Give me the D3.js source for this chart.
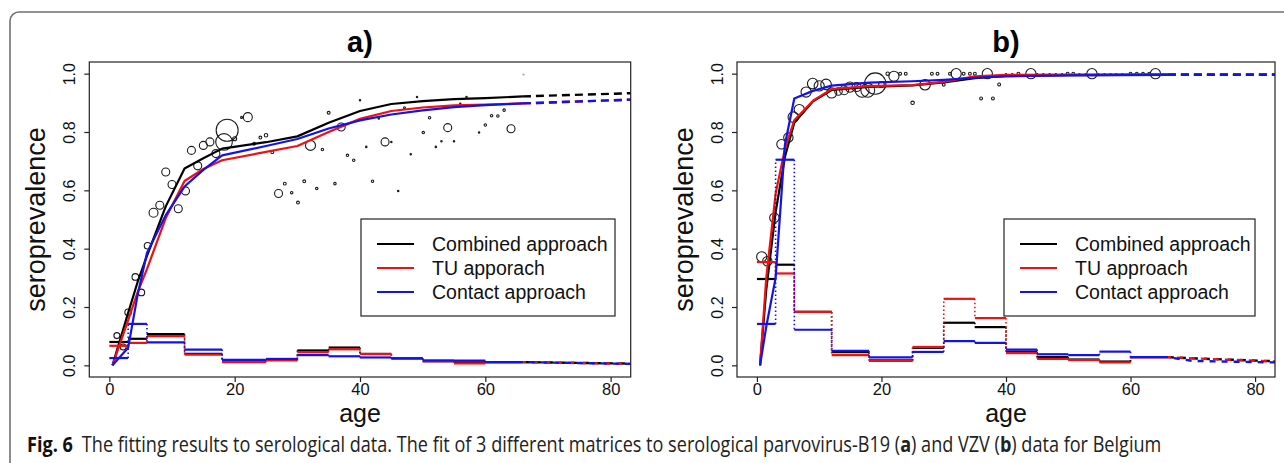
<!DOCTYPE html>
<html>
<head>
<meta charset="utf-8">
<script src="https://cdn.jsdelivr.net/npm/d3@7"></script>
<style>
html, body { margin: 0; padding: 0; background: #fff; }
svg { display: block; font-family: "Liberation Sans", Arial, sans-serif; }
</style>
</head>
<body>
<svg id="chart" width="1284" height="463"></svg>
<script>
// ---- data ----
const xTicks = [0, 20, 40, 60, 80];
const yTicks = [0, 0.2, 0.4, 0.6, 0.8, 1.0];
const seriesColors = ["#000000", "#f01010", "#1212f0"];
const legendA = ["Combined approach", "TU apporach", "Contact approach"];
const legendB = ["Combined approach", "TU approach", "Contact approach"];

// age groups of the piecewise force of infection
const ageBreaks = [0, 3, 6, 12, 18, 25, 30, 35, 40, 45, 50, 55, 60, 66];

// panel a: parvovirus-B19
const stepA_combined = [0.080, 0.091, 0.107, 0.039, 0.014, 0.019, 0.051, 0.061, 0.039, 0.024, 0.014, 0.010, 0.011];
const stepA_tu       = [0.067, 0.077, 0.100, 0.037, 0.011, 0.017, 0.045, 0.055, 0.039, 0.024, 0.014, 0.007, 0.011];
const stepA_contact  = [0.025, 0.142, 0.079, 0.054, 0.019, 0.022, 0.035, 0.031, 0.027, 0.024, 0.017, 0.016, 0.011];
const stepExtAgesA = [66, 83.2];
const stepExtA_combined = [0.011, 0.006];
const stepExtA_tu = [0.011, 0.005];
const stepExtA_contact = [0.011, 0.005];

const prevAgesA = [0.5, 3, 4.5, 6, 9, 12, 15, 18, 25, 30, 35, 40, 45, 50, 55, 60, 66];
const prevA_combined = [0, 0.18, 0.285, 0.375, 0.545, 0.675, 0.71, 0.743, 0.765, 0.785, 0.832, 0.872, 0.896, 0.906, 0.913, 0.916, 0.922];
const prevA_tu       = [0, 0.155, 0.25, 0.33, 0.505, 0.632, 0.673, 0.703, 0.732, 0.752, 0.80, 0.845, 0.872, 0.884, 0.891, 0.894, 0.898];
const prevA_contact  = [0, 0.06, 0.24, 0.385, 0.515, 0.613, 0.67, 0.72, 0.752, 0.776, 0.812, 0.84, 0.86, 0.874, 0.885, 0.892, 0.898];
const prevExtAges = [66, 83.2];
const prevExtA_combined = [0.922, 0.933];
const prevExtA_tu = [0.898, 0.911];
const prevExtA_contact = [0.898, 0.911];

// observed seroprevalence: age, proportion, sample weight
const obsAgeA = [1.2, 2.2, 3.0, 4.15, 5.1, 6.1, 7.05, 8.05, 9.0, 10.0, 11.0, 12.15, 13.1, 14.1, 15.0, 16.05, 17.0, 18.3, 18.8, 20.0,
  21.1, 22.1, 23.1, 24.1, 25.0, 26.0, 27.0, 28.0, 29.1, 30.1, 31.1, 32.1, 33.1, 34.0, 35.0, 36.0, 37.0, 38.0, 39.0, 40.0,
  41.0, 42.0, 43.0, 44.0, 45.0, 46.1, 47.1, 48.1, 49.1, 50.1, 51.1, 52.1, 53.0, 54.0, 55.0, 56.0, 57.0, 59.0, 60.0, 61.0,
  62.0, 63.0, 64.1, 66.1];
const obsPrevA = [0.102, 0.063, 0.182, 0.303, 0.25, 0.41, 0.523, 0.549, 0.663, 0.62, 0.537, 0.598, 0.737, 0.684, 0.754, 0.766, 0.726, 0.766, 0.806, 0.777,
  0.85, 0.851, 0.76, 0.781, 0.789, 0.731, 0.589, 0.623, 0.592, 0.558, 0.631, 0.754, 0.606, 0.74, 0.866, 0.623, 0.817, 0.72, 0.703, 0.909,
  0.749, 0.631, 0.846, 0.766, 0.766, 0.598, 0.883, 0.724, 0.92, 0.798, 0.849, 0.749, 0.768, 0.815, 0.768, 0.897, 0.92, 0.798, 0.824, 0.856,
  0.855, 0.875, 0.811, 0.997];
const obsNA = [9, 9, 11, 11, 11, 11, 20, 16, 16, 16, 16, 16, 16, 16, 16, 16, 16, 69, 121, 4,
  1, 20, 2, 2, 3, 2, 16, 2, 1.5, 2, 2, 25, 1.5, 1.5, 2, 1.5, 16, 1.5, 1.5, 0.5,
  0.5, 1.5, 0.5, 16, 0.5, 0.5, 1, 0.5, 0.5, 1.5, 1.5, 0.5, 0.5, 16, 0.5, 0.5, 0.5, 0.5, 1.5, 1.5,
  1.5, 1.5, 16, 0.3];

// panel b: VZV
const stepB_combined = [0.296, 0.345, 0.183, 0.045, 0.017, 0.060, 0.146, 0.131, 0.047, 0.028, 0.020, 0.013, 0.028];
const stepB_tu       = [0.354, 0.315, 0.183, 0.035, 0.015, 0.063, 0.228, 0.162, 0.042, 0.022, 0.018, 0.010, 0.028];
const stepB_contact  = [0.142, 0.705, 0.122, 0.050, 0.027, 0.046, 0.083, 0.077, 0.054, 0.038, 0.035, 0.047, 0.028];
const stepExtAgesB = [66, 70, 83.2];
const stepExtB_combined = [0.028, 0.024, 0.014];
const stepExtB_tu = [0.028, 0.024, 0.013];
const stepExtB_contact = [0.028, 0.015, 0.010];

const prevAgesB = [0.5, 1.5, 3, 4.5, 6, 9, 12, 18, 25, 30, 35, 40, 50, 66];
const prevB_combined = [0, 0.26, 0.525, 0.715, 0.832, 0.905, 0.944, 0.955, 0.96, 0.97, 0.985, 0.992, 0.995, 0.997];
const prevB_tu       = [0, 0.30, 0.588, 0.743, 0.84, 0.907, 0.947, 0.957, 0.961, 0.972, 0.991, 0.996, 0.997, 0.998];
const prevB_contact  = [0, 0.133, 0.30, 0.757, 0.915, 0.941, 0.959, 0.969, 0.974, 0.979, 0.986, 0.991, 0.994, 0.996];
const prevExtB_combined = [0.997, 0.997];
const prevExtB_tu = [0.996, 0.996];
const prevExtB_contact = [0.996, 0.996];

const obsAgeB = [0.77, 1.67, 2.8, 3.94, 5.05, 5.85, 6.8, 7.9, 8.96, 10.0, 11.1, 12.0, 13.1, 14.0, 14.95, 16.0, 16.9, 17.8, 19.0, 20.0,
  21.0, 22.0, 23.0, 23.9, 25.0, 27.0, 28.1, 29.0, 30.0, 31.0, 32.0, 33.2, 34.2, 35.0, 36.0, 37.0, 37.9, 38.9, 40.0, 41.0,
  42.0, 44.0, 45.0, 46.0, 47.0, 48.0, 49.0, 49.9, 50.8, 51.8, 52.8, 53.8, 54.8, 55.8, 56.8, 57.7, 58.7, 60.0, 61.0, 62.0,
  63.0, 64.0];
const obsPrevB = [0.372, 0.357, 0.506, 0.758, 0.781, 0.851, 0.877, 0.937, 0.966, 0.958, 0.963, 0.934, 0.939, 0.943, 0.954, 0.954, 0.943, 0.943, 0.966, 0.963,
  1.0, 0.991, 1.0, 1.0, 0.90, 0.962, 1.0, 1.0, 0.962, 1.0, 1.0, 1.0, 1.0, 1.0, 0.915, 1.0, 0.915, 0.963, 0.998, 0.998,
  1.0, 1.0, 0.998, 0.998, 0.998, 0.998, 0.998, 1.0, 1.0, 0.998, 0.998, 1.0, 0.998, 0.998, 0.998, 0.998, 0.998, 1.0, 1.0, 1.0,
  1.0, 1.0];
const obsNB = [26, 22, 22, 22, 22, 28, 26, 26, 28, 26, 28, 26, 14, 20, 26, 20, 48, 48, 114, 8,
  3, 26, 2, 2, 3, 28, 2, 2, 2, 2, 26, 2, 2, 2, 2, 26, 2, 2, 0.5, 0.5,
  2, 26, 0.5, 0.5, 0.5, 0.5, 0.5, 2, 2, 0.5, 0.5, 26, 0.5, 0.5, 0.5, 0.5, 0.5, 2, 2, 2,
  2, 26];

// ---- layout ----
const svg = d3.select("#chart");
const xDomain = [-3.2, 83.2];
const yDomain = [-0.04, 1.04];
const boxTop = 62, boxBottom = 377;
const sizeScale = d3.scaleSqrt().domain([0, 100]).range([0, 10]);

// outer frame of the figure
svg.append("rect")
  .attr("x", 10).attr("y", 12)
  .attr("width", 1400).attr("height", 600)
  .attr("rx", 9)
  .attr("fill", "none")
  .attr("stroke", "#707070")
  .attr("stroke-width", 1.6);

function drawPanel(p) {
  const x = d3.scaleLinear().domain(xDomain).range([p.left, p.right]);
  const y = d3.scaleLinear().domain(yDomain).range([boxBottom, boxTop]);
  const g = svg.append("g");

  // observed points
  g.append("g").selectAll("circle")
    .data(d3.zip(p.obsAge, p.obsPrev, p.obsN))
    .join("circle")
    .attr("cx", d => x(d[0]))
    .attr("cy", d => y(d[1]))
    .attr("r", d => Math.max(0.6, sizeScale(d[2])))
    .attr("fill", "none")
    .attr("stroke", d => d[2] < 0.4 ? "#aaa" : "#1a1a1a")
    .attr("stroke-width", 1.1);

  const line = d3.line().x(d => x(d[0])).y(d => y(d[1]));

  p.series.forEach((s, i) => {
    const color = seriesColors[i];
    const sg = g.append("g");

    // dotted jumps between age groups
    const jumps = s.step.slice(0, -1).map((v, k) => [ageBreaks[k + 1], v, s.step[k + 1]]);
    sg.selectAll("line.jump")
      .data(jumps)
      .join("line")
      .attr("class", "jump")
      .attr("x1", d => x(d[0])).attr("x2", d => x(d[0]))
      .attr("y1", d => y(d[1])).attr("y2", d => y(d[2]))
      .attr("stroke", color)
      .attr("stroke-width", 1.6)
      .attr("stroke-dasharray", "1.5,2.5");

    // force of infection per age group
    sg.selectAll("line.step")
      .data(s.step)
      .join("line")
      .attr("class", "step")
      .attr("x1", (d, k) => x(ageBreaks[k]))
      .attr("x2", (d, k) => x(ageBreaks[k + 1]))
      .attr("y1", d => y(d)).attr("y2", d => y(d))
      .attr("stroke", color)
      .attr("stroke-width", 2.2);

    sg.append("path")
      .datum(d3.zip(p.stepExtAges, s.stepExt))
      .attr("d", line)
      .attr("fill", "none")
      .attr("stroke", color)
      .attr("stroke-width", 2.4)
      .attr("stroke-dasharray", "6,6")
      .attr("stroke-dashoffset", i * 3);

    // fitted seroprevalence
    sg.append("path")
      .datum(d3.zip(p.prevAges, s.prev))
      .attr("d", line)
      .attr("fill", "none")
      .attr("stroke", color)
      .attr("stroke-width", 2.2)
      .attr("stroke-linejoin", "round");

    sg.append("path")
      .datum(d3.zip(prevExtAges, s.prevExt))
      .attr("d", line)
      .attr("fill", "none")
      .attr("stroke", color)
      .attr("stroke-width", 2.4)
      .attr("stroke-dasharray", "8,5");
  });

  // plot box
  g.append("rect")
    .attr("x", p.left).attr("y", boxTop)
    .attr("width", p.right - p.left).attr("height", boxBottom - boxTop)
    .attr("fill", "none")
    .attr("stroke", "#222")
    .attr("stroke-width", 1.2);

  const xAxis = g.append("g")
    .attr("transform", `translate(0,${boxBottom})`)
    .call(d3.axisBottom(x).tickValues(xTicks).tickSize(5).tickSizeOuter(0));
  xAxis.select(".domain").remove();
  xAxis.selectAll(".tick line").attr("stroke", "#222").attr("stroke-width", 1.2);
  xAxis.selectAll(".tick text")
    .attr("y", 18).attr("dy", 0)
    .attr("font-size", 16.5)
    .attr("font-family", "Liberation Sans, Arial, sans-serif")
    .attr("fill", "#111");

  const yAxis = g.append("g")
    .attr("transform", `translate(${p.left},0)`)
    .call(d3.axisLeft(y).tickValues(yTicks).tickFormat(d3.format(".1f")).tickSize(5).tickSizeOuter(0));
  yAxis.select(".domain").remove();
  yAxis.selectAll(".tick line").attr("stroke", "#222").attr("stroke-width", 1.2);
  yAxis.selectAll(".tick text")
    .attr("transform", "rotate(-90)")
    .attr("x", 0).attr("y", -14).attr("dy", 0)
    .attr("text-anchor", "middle")
    .attr("font-size", 16)
    .attr("font-family", "Liberation Sans, Arial, sans-serif")
    .attr("fill", "#111");

  const cx = (p.left + p.right) / 2;
  g.append("text")
    .attr("x", cx).attr("y", 52)
    .attr("text-anchor", "middle")
    .attr("font-size", 29)
    .attr("font-weight", "bold")
    .attr("fill", "#000")
    .text(p.title);

  g.append("text")
    .attr("x", cx).attr("y", 421.5)
    .attr("text-anchor", "middle")
    .attr("font-size", 25)
    .attr("fill", "#111")
    .text("age");

  g.append("text")
    .attr("transform", `translate(${p.left - 44},${(boxTop + boxBottom) / 2}) rotate(-90)`)
    .attr("text-anchor", "middle")
    .attr("font-size", 27)
    .attr("fill", "#111")
    .text("seroprevalence");

  // legend
  const lg = g.append("g");
  lg.append("rect")
    .attr("x", p.legend.x).attr("y", 219)
    .attr("width", p.legend.w).attr("height", 97)
    .attr("fill", "#fff")
    .attr("stroke", "#222")
    .attr("stroke-width", 1.2);
  const rowY = [244, 268, 292];
  p.labels.forEach((lab, i) => {
    lg.append("line")
      .attr("x1", p.legend.x + 16).attr("x2", p.legend.x + 53)
      .attr("y1", rowY[i]).attr("y2", rowY[i])
      .attr("stroke", seriesColors[i])
      .attr("stroke-width", 2.2);
    lg.append("text")
      .attr("x", p.legend.x + 71).attr("y", rowY[i] + 7)
      .attr("font-size", 19.5)
      .attr("fill", "#111")
      .text(lab);
  });
}

drawPanel({
  title: "a)", left: 89.3, right: 630.7,
  legend: { x: 361, w: 254 }, labels: legendA,
  obsAge: obsAgeA, obsPrev: obsPrevA, obsN: obsNA,
  prevAges: prevAgesA, stepExtAges: stepExtAgesA,
  series: [
    { step: stepA_combined, stepExt: stepExtA_combined, prev: prevA_combined, prevExt: prevExtA_combined },
    { step: stepA_tu, stepExt: stepExtA_tu, prev: prevA_tu, prevExt: prevExtA_tu },
    { step: stepA_contact, stepExt: stepExtA_contact, prev: prevA_contact, prevExt: prevExtA_contact }
  ]
});

drawPanel({
  title: "b)", left: 737, right: 1275,
  legend: { x: 1004, w: 251 }, labels: legendB,
  obsAge: obsAgeB, obsPrev: obsPrevB, obsN: obsNB,
  prevAges: prevAgesB, stepExtAges: stepExtAgesB,
  series: [
    { step: stepB_combined, stepExt: stepExtB_combined, prev: prevB_combined, prevExt: prevExtB_combined },
    { step: stepB_tu, stepExt: stepExtB_tu, prev: prevB_tu, prevExt: prevExtB_tu },
    { step: stepB_contact, stepExt: stepExtB_contact, prev: prevB_contact, prevExt: prevExtB_contact }
  ]
});

// caption, squeezed horizontally to the width it has in the figure
const cap = svg.append("text")
  .attr("x", 0).attr("y", 0)
  .attr("font-family", "Open Sans, Noto Sans, sans-serif")
  .attr("font-size", 22)
  .attr("fill", "#222");
cap.append("tspan").attr("font-weight", "bold").attr("fill", "#111").text("Fig. 6");
cap.append("tspan").text("\u2002The fitting results to serological data. The fit of 3 different matrices to serological parvovirus-B19 (");
cap.append("tspan").attr("font-weight", "bold").text("a");
cap.append("tspan").text(") and VZV (");
cap.append("tspan").attr("font-weight", "bold").text("b");
cap.append("tspan").text(") data for Belgium");
const capWidth = cap.node().getComputedTextLength();
cap.attr("transform", `translate(27,451.5) scale(${1135 / capWidth},1)`);
</script>
</body>
</html>
